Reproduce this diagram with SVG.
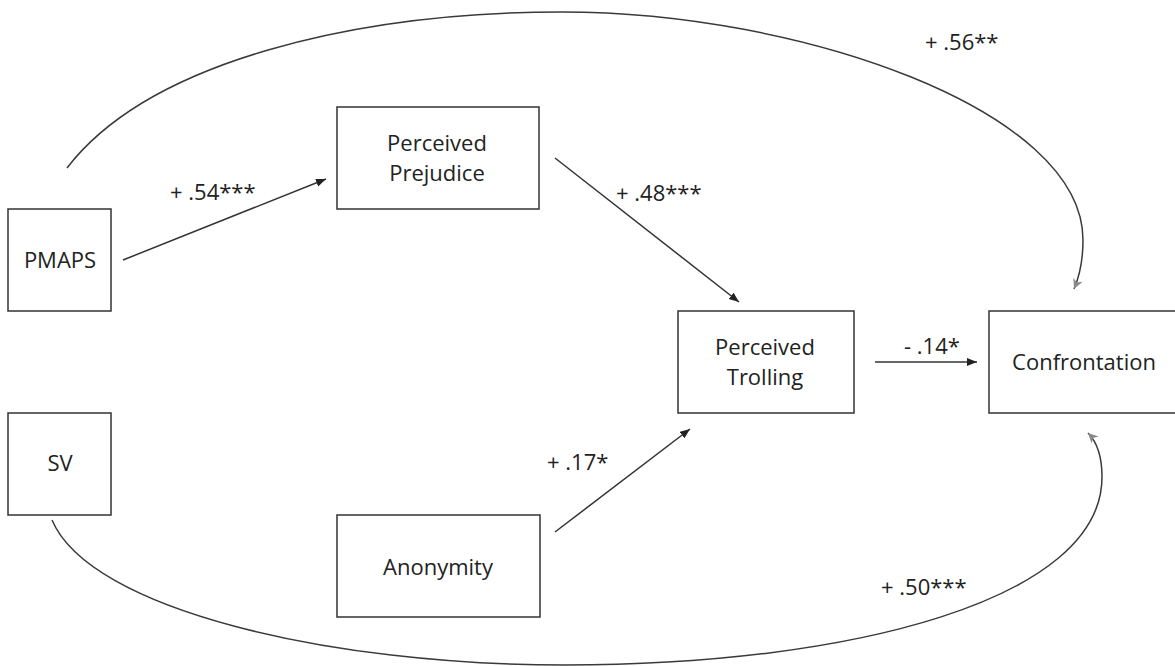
<svg xmlns="http://www.w3.org/2000/svg" width="1175" height="666" viewBox="0 0 1175 666">
  <style>
    .box { fill: #ffffff; stroke: #333333; stroke-width: 1.5; }
    .lbl { font-family: "Open Sans", "Noto Sans", sans-serif; font-size: 22px; fill: #222222; }
    .mid { text-anchor: middle; }
    .edge { fill: none; stroke: #333333; stroke-width: 1.5; }
    .curve { fill: none; stroke: #3a3a3a; stroke-width: 1.5; }
  </style>
  <defs>
    <marker id="arrow" markerUnits="userSpaceOnUse" markerWidth="12" markerHeight="10" refX="10" refY="4" orient="auto">
      <path d="M0,0 L10,4 L0,8 Z" fill="#222222"/>
    </marker>
    <marker id="arrowSoft" markerUnits="userSpaceOnUse" markerWidth="14" markerHeight="12" refX="10" refY="5" orient="auto">
      <path d="M0,0 L10,5 L0,10 L3,5 Z" fill="#8a8a8a"/>
    </marker>
  </defs>

  <rect width="1175" height="666" fill="#ffffff"/>

  <!-- paths between variables -->
  <g id="connectors">
    <path class="curve" d="M67,168 C150,60 360,12 562,12 C800,12 1083,110 1083,240 C1083,260 1080,275 1074,289" marker-end="url(#arrowSoft)"/>
    <path class="curve" d="M52,520 C90,610 330,665 565,665 C850,665 1102,600 1102,477 C1102,455 1097,442 1088,433" marker-end="url(#arrowSoft)"/>
    <line class="edge" x1="123" y1="260" x2="326" y2="179" marker-end="url(#arrow)"/>
    <line class="edge" x1="555" y1="158" x2="739" y2="302" marker-end="url(#arrow)"/>
    <line class="edge" x1="555" y1="532" x2="690" y2="429" marker-end="url(#arrow)"/>
    <line class="edge" x1="875" y1="362" x2="977" y2="362" marker-end="url(#arrow)"/>
  </g>

  <!-- path coefficients -->
  <g id="coefficients">
    <text class="lbl" x="170" y="200">+ .54***</text>
    <text class="lbl" x="616" y="201">+ .48***</text>
    <text class="lbl" x="547" y="470">+ .17*</text>
    <text class="lbl" x="904" y="354">- .14*</text>
    <text class="lbl" x="925" y="50">+ .56**</text>
    <text class="lbl" x="881" y="595">+ .50***</text>
  </g>

  <g id="pmaps">
    <rect class="box" x="8" y="209" width="103" height="102"/>
    <text class="lbl mid" x="60" y="268">PMAPS</text>
  </g>

  <g id="sv">
    <rect class="box" x="8" y="413" width="103" height="102"/>
    <text class="lbl mid" x="60" y="471">SV</text>
  </g>

  <g id="perceived-prejudice">
    <rect class="box" x="337" y="107" width="202" height="102"/>
    <text class="lbl mid" x="437" y="151">Perceived</text>
    <text class="lbl mid" x="437" y="181">Prejudice</text>
  </g>

  <g id="anonymity">
    <rect class="box" x="337" y="515" width="203" height="102"/>
    <text class="lbl mid" x="438" y="575">Anonymity</text>
  </g>

  <g id="perceived-trolling">
    <rect class="box" x="678" y="311" width="176" height="102"/>
    <text class="lbl mid" x="765" y="355">Perceived</text>
    <text class="lbl mid" x="765" y="385">Trolling</text>
  </g>

  <g id="confrontation">
    <rect class="box" x="989" y="311" width="200" height="102"/>
    <text class="lbl mid" x="1084" y="370">Confrontation</text>
  </g>
</svg>
